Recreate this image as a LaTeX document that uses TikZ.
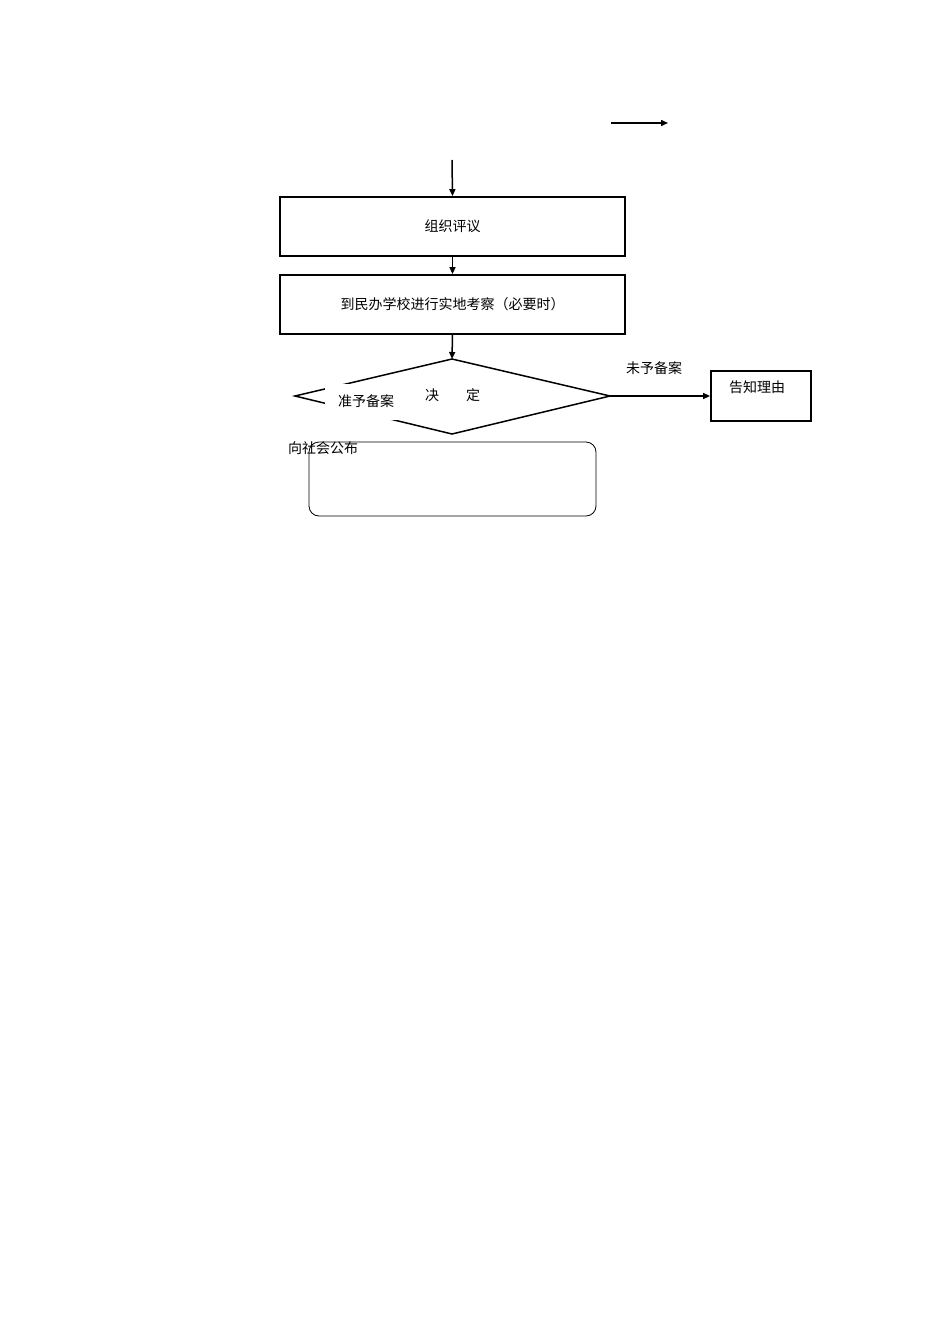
\documentclass[tikz,border=0pt]{standalone}
\usepackage{fontspec}
\newfontfamily\cjk{Noto Sans CJK SC}
\usetikzlibrary{arrows.meta}
\begin{document}
\begin{tikzpicture}[x=1pt,y=-1pt,
  box/.style={draw,line width=1.8pt},
  arr/.style={line width=1.5pt,-{Triangle[length=7pt,width=6pt]}},
  t/.style={font=\cjk\fontsize{14}{16}\selectfont,inner sep=1pt}]
\useasboundingbox (0,0) rectangle (950,1344);
\coordinate (a1) at (611,123); \coordinate (a2) at (668,123);
\draw[arr] (a1) -- (a2);
\coordinate (s) at (452,160);
\node[box,minimum width=345pt,minimum height=59pt,t] (b1) at (452.5,226.5) {组织评议};
\node[box,minimum width=345pt,minimum height=59pt,t] (b2) at (452.5,304.5) {到民办学校进行实地考察（必要时）};
\draw[arr] (s) -- (b1.north);
\draw[arr] (b1.south) -- (b2.north);
\coordinate (dt) at (452,359); \coordinate (dr) at (610,396);
\coordinate (db) at (452,434); \coordinate (dl) at (295,396);
\draw[line width=1.5pt] (dt) -- (dr) -- (db) -- (dl) -- cycle;
\draw[arr] (b2.south) -- (dt);
\node[box,minimum width=100pt,minimum height=50pt] (g) at (761,396) {};
\node[t] at (757,387) {告知理由};
\draw[arr] (dr) -- (g.west);
\node[t] (w) at (654,368) {未予备案};
\node[draw,line width=0.8pt,rounded corners=10pt,minimum width=287pt,minimum height=74pt] (r) at (452.5,479) {};
\node[t] (p) at (323,448) {向社会公布};
\node[t,fill=white,inner sep=0pt,minimum width=75pt,minimum height=36pt] (z) at (362,402) {};
\node[t] at (366,401) {准予备案};
\node[t] (j) at (432,395) {决};
\node[t] (d) at (473,395) {定};
\end{tikzpicture}
\end{document}
